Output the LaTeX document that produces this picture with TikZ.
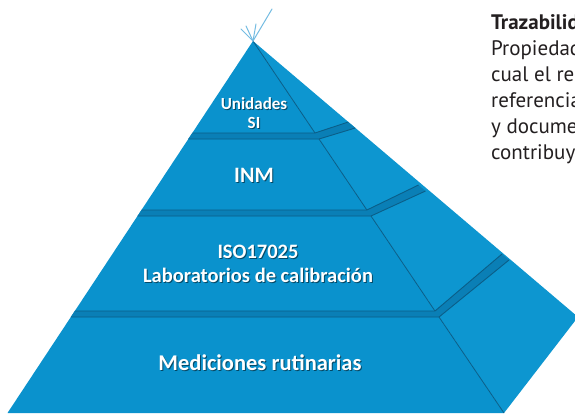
\documentclass[tikz,border=0pt]{standalone}
\usepackage{fontspec}
\setmainfont{Carlito}
\newfontfamily\sidefont{PT Sans}
\definecolor{pyrfront}{HTML}{0A92CD}
\definecolor{pyrside}{HTML}{0D96D0}
\definecolor{edgedark}{HTML}{0B5E88}
\definecolor{bandblue}{HTML}{0A7FB6}
\definecolor{flourish}{HTML}{74BCE2}
\definecolor{bodytext}{HTML}{231F20}
\tikzset{
  tierfont/.style={font=\bfseries\fontsize{#1}{#1}\selectfont},
  tierlabel/.style={text=white, align=center, inner sep=0pt},
  tiershadow/.style={text=black, text opacity=0.5, align=center, inner sep=0pt},
  bandfill/.style={fill=bandblue},
  bandedge/.style={draw=edgedark, line width=0.9pt},
  ridgeline/.style={draw=edgedark, line width=0.8pt},
  flourishline/.style={draw=flourish, line width=1pt, line cap=round},
  sidetext/.style={anchor=base west, inner sep=0pt, font=\sidefont\fontsize{21}{26}\selectfont, text=bodytext},
  sidehead/.style={sidetext, font=\sidefont\bfseries\fontsize{21}{26}\selectfont},
}
\begin{document}
\begin{tikzpicture}[x=1pt,y=-1pt]
\clip (0,0) rectangle (575,413);
\fill[white] (0,0) rectangle (575,413);
% main corners
\coordinate (apex) at (253,41);
\coordinate (baseL) at (7.5,413);
\coordinate (baseR) at (504,413);
\coordinate (baseB) at (578,317);
% faces
\fill[pyrfront] (apex) -- (baseL) -- (baseR) -- cycle;
\fill[pyrside] (apex) -- (baseR) -- (baseB) -- cycle;
% band 1 (Unidades SI / INM)
\coordinate (b1a) at (192.3,133); \coordinate (b1b) at (315,133);
\coordinate (b1c) at (348.3,122); \coordinate (b1d) at (355.3,128);
\coordinate (b1e) at (319,139);   \coordinate (b1f) at (188.3,139);
\fill[bandfill] (b1a) -- (b1b) -- (b1c) -- (b1d) -- (b1e) -- (b1f) -- cycle;
\draw[bandedge] (b1a) -- (b1b) -- (b1c);
\draw[bandedge] (b1f) -- (b1e) -- (b1d);
% band 2 (INM / ISO)
\coordinate (b2a) at (141.5,210); \coordinate (b2b) at (366.9,210);
\coordinate (b2c) at (418.5,185); \coordinate (b2d) at (425.5,191);
\coordinate (b2e) at (371,216);   \coordinate (b2f) at (137.5,216);
\fill[bandfill] (b2a) -- (b2b) -- (b2c) -- (b2d) -- (b2e) -- (b2f) -- cycle;
\draw[bandedge] (b2a) -- (b2b) -- (b2c);
\draw[bandedge] (b2f) -- (b2e) -- (b2d);
% band 3 (ISO / Mediciones)
\coordinate (b3a) at (74.8,311); \coordinate (b3b) at (435,311);
\coordinate (b3c) at (502,254); \coordinate (b3d) at (509,260);
\coordinate (b3e) at (439,317);   \coordinate (b3f) at (70.8,317);
\fill[bandfill] (b3a) -- (b3b) -- (b3c) -- (b3d) -- (b3e) -- (b3f) -- cycle;
\draw[bandedge] (b3a) -- (b3b) -- (b3c);
\draw[bandedge] (b3f) -- (b3e) -- (b3d);
% ridge
\draw[ridgeline] (apex) -- (b1b);
\draw[ridgeline] (b1e) -- (b2b);
\draw[ridgeline] (b2e) -- (b3b);
\draw[ridgeline] (b3e) -- (baseR);
% flourish at apex
\coordinate (f1) at (272,9);
\coordinate (f2) at (241,29);
\coordinate (f3) at (246,26);
\coordinate (f4) at (256,24);
\draw[flourishline] (apex) -- (f1);
\draw[flourishline] (f2) -- (apex);
\draw[flourishline] (f3) -- (apex);
\draw[flourishline] (f4) -- (apex);
% tier labels
\node[tiershadow, tierfont=17] (t1s) at (255,114) {Unidades\\[2pt]SI};
\node[tierlabel, tierfont=17] (t1) at (254,113) {Unidades\\[2pt]SI};
\node[tiershadow, tierfont=22] (t2s) at (255,176) {INM};
\node[tierlabel, tierfont=22] (t2) at (254,175) {INM};
\node[tiershadow, tierfont=20.5] (t3s) at (259,265) {ISO17025\\[3pt]Laboratorios de calibración};
\node[tierlabel, tierfont=20.5] (t3) at (258,264) {ISO17025\\[3pt]Laboratorios de calibración};
\node[tiershadow, tierfont=22.5] (t4s) at (261,364) {Mediciones rutinarias};
\node[tierlabel, tierfont=22.5] (t4) at (260,363) {Mediciones rutinarias};
% side text (clipped at the picture edge, as in the reference)
\node[sidehead] (s1) at (491,29) {Trazabilidad};
\node[sidetext] (s2) at (491,55) {Propiedad};
\node[sidetext] (s3) at (491,81) {cual el resultado};
\node[sidetext] (s4) at (491,107) {referencia};
\node[sidetext] (s5) at (491,133) {y documentada};
\node[sidetext] (s6) at (491,159) {contribuye};
\end{tikzpicture}
\end{document}
